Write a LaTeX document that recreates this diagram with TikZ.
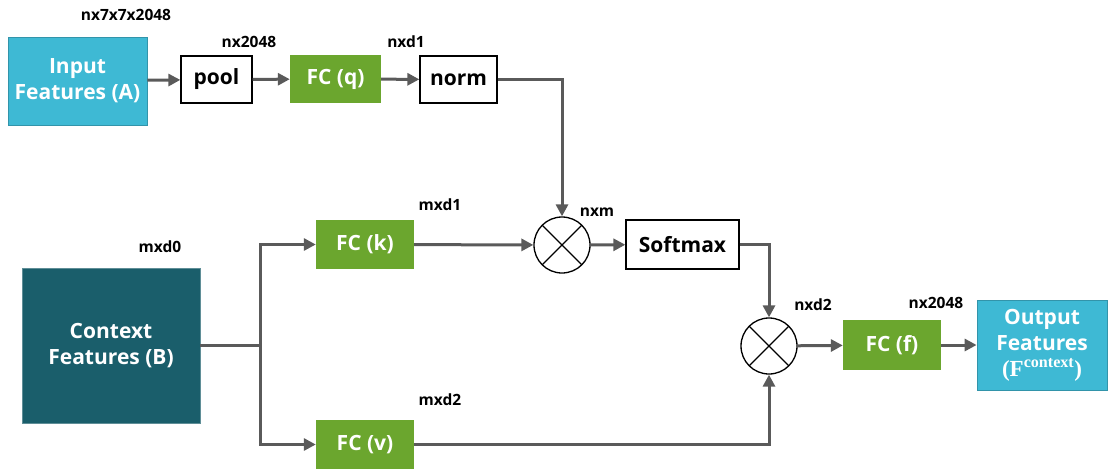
\documentclass[tikz,border=0pt]{standalone}
\usepackage{fontspec}
\setmainfont{Open Sans}
\newfontfamily\serifb{Liberation Serif}
\usetikzlibrary{arrows.meta}
\definecolor{cyanbox}{HTML}{3EB9D4}
\definecolor{greenbox}{HTML}{6BA62E}
\definecolor{tealbox}{HTML}{1A5E6B}
\definecolor{arrowgray}{HTML}{5A5A5A}
\begin{document}
\begin{tikzpicture}[x=1pt,y=-1pt,
  box/.style={draw=black,line width=1.3pt,fill=white,inner sep=0pt,font=\fontsize{21}{25}\selectfont\bfseries},
  gbox/.style={fill=greenbox,draw=none,inner sep=0pt,text=white,font=\fontsize{21}{25}\selectfont\bfseries},
  cbox/.style={fill=cyanbox,draw=cyanbox!80!black,line width=0.8pt,inner sep=0pt,text=white,align=center,font=\fontsize{21}{26}\selectfont\bfseries},
  tbox/.style={fill=tealbox,draw=tealbox!70!white,line width=0.8pt,inner sep=0pt,text=white,align=center,font=\fontsize{21}{26}\selectfont\bfseries},
  dim/.style={font=\fontsize{15.5}{18}\selectfont\bfseries,text=black,inner sep=0pt},
  mult/.style={circle,draw=black,line width=1.3pt,minimum size=56pt,inner sep=0pt,fill=white,
    path picture={\draw[line width=1.3pt,black] (path picture bounding box.north west) -- (path picture bounding box.south east) (path picture bounding box.north east) -- (path picture bounding box.south west);}},
  conn/.style={draw=arrowgray,line width=3pt,-{Triangle[length=12pt,width=12pt]}},
  line/.style={draw=arrowgray,line width=3pt}
]
\useasboundingbox (0,0) rectangle (1110,469);

% top row
\node[cbox,minimum width=139pt,minimum height=88pt] (inA) at (77.5,81) {Input\\Features (A)};
\node[box,minimum width=71pt,minimum height=47pt] (pool) at (216.5,79.5) {pool};
\node[gbox,minimum width=91pt,minimum height=48pt] (fcq) at (335.5,79) {FC (q)};
\node[box,minimum width=77pt,minimum height=47pt] (norm) at (458.5,79.5) {norm};

\node[dim] (l1) at (126,15) {nx7x7x2048};
\node[dim] (l2) at (249,42) {nx2048};
\node[dim] (l3) at (406,42) {nxd1};

% middle
\node[mult] (m1) at (562,245) {};
\node[dim] (l4) at (597,212) {nxm};
\node[box,minimum width=113pt,minimum height=49pt] (soft) at (682.5,244.5) {Softmax};

\node[tbox,minimum width=178pt,minimum height=155pt] (ctx) at (111,345.5) {Context\\Features (B)};
\node[dim] (l5) at (160,247) {mxd0};

\node[gbox,minimum width=98pt,minimum height=49pt] (fck) at (365,244.5) {FC (k)};
\node[dim] (l6) at (440,205) {mxd1};
\node[gbox,minimum width=98pt,minimum height=49pt] (fcv) at (365,444.5) {FC (v)};
\node[dim] (l7) at (440,400) {mxd2};

\node[mult] (m2) at (769,346) {};
\node[dim] (l8) at (813,305) {nxd2};
\node[gbox,minimum width=98pt,minimum height=50pt] (fcf) at (892,345) {FC (f)};
\node[dim] (l9) at (936,303) {nx2048};
\node[cbox,minimum width=130pt,minimum height=90pt] (out) at (1042,345) {Output\\Features\\{\serifb\bfseries\fontsize{23}{25}\selectfont (F\textsuperscript{context})}};

\coordinate (br) at (260,345.5);

% connectors
\draw[conn] (inA) -- (pool);
\draw[conn] (pool) -- (fcq);
\draw[conn] (fcq) -- (norm);
\draw[conn] (norm.east) -| (m1.north);
\draw[conn] (fck) -- (m1);
\draw[conn] (m1) -- (soft);
\draw[conn] (soft.east) -| (m2.north);
\draw[line] (ctx.east) -- (br);
\draw[conn] (br) |- (fck.west);
\draw[conn] (br) |- (fcv.west);
\draw[conn] (fcv.east) -| (m2.south);
\draw[conn] (m2) -- (fcf);
\draw[conn] (fcf) -- (out);
\end{tikzpicture}
\end{document}
